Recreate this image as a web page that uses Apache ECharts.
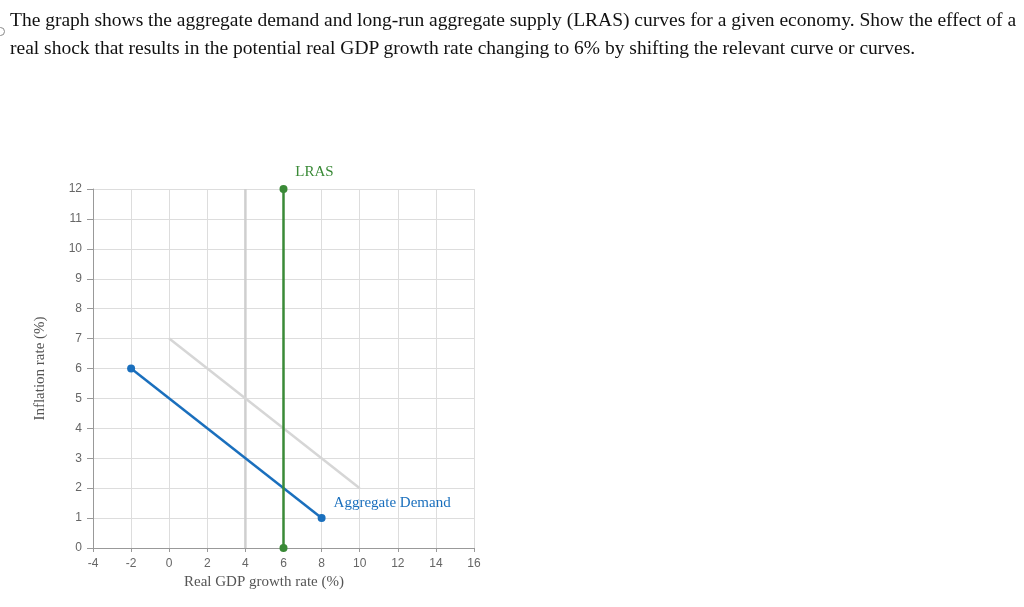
<!DOCTYPE html>
<html>
<head>
<meta charset="utf-8">
<script src="https://cdn.jsdelivr.net/npm/echarts@6/dist/echarts.min.js"></script>
<style>
  html, body { margin: 0; padding: 0; background: #fff; }
  #question {
    position: absolute; left: 10px; top: 6px; width: 1014px;
    font-family: "Liberation Serif", "Times New Roman", serif;
    font-size: 19.5px; line-height: 28px; color: #111; white-space: nowrap;
  }
  #dot {
    position: absolute; left: -4px; top: 27px; width: 7px; height: 7px;
    border: 1px solid #888; border-radius: 50%;
  }
  #chart { width: 1024px; height: 607px; }
</style>
</head>
<body>
<div id="chart"></div>
<div id="dot"></div>
<div id="question">The graph shows the aggregate demand and long-run aggregate supply (LRAS) curves for a given economy. Show the effect of a<br>real shock that results in the potential real GDP growth rate changing to 6% by shifting the relevant curve or curves.</div>
<script>
// 曲线数据 (x = 实际GDP增长率, y = 通胀率)
var oldLrasX = [4, 4];
var oldLrasY = [0, 12];
var oldAdX = [0, 10];
var oldAdY = [7, 2];
var adX = [-2, 8];
var adY = [6, 1];
var lrasX = [6, 6];
var lrasY = [0, 12];

function pairs(xs, ys) {
    return xs.map(function (x, i) { return [x, ys[i]]; });
}

var myChart = echarts.init(document.getElementById('chart'));

var serif = '"Liberation Serif", "Times New Roman", serif';
var sans = '"Liberation Sans", Arial, sans-serif';

var adData = pairs(adX, adY);
adData[1] = {
    value: adData[1],
    label: {
        show: true, position: 'right', offset: [3, -15],
        formatter: 'Aggregate Demand',
        color: '#1a6fbd', fontFamily: serif, fontSize: 15
    }
};
var lrasData = pairs(lrasX, lrasY);
lrasData[1] = {
    value: lrasData[1],
    label: {
        show: true, position: 'top', offset: [31, 0],
        formatter: 'LRAS',
        color: '#3a8a37', fontFamily: serif, fontSize: 15
    }
};

var option = {
    animation: false,
    grid: { left: 93, right: 550, top: 189, bottom: 59 },
    xAxis: {
        type: 'value', min: -4, max: 16, interval: 2,
        name: 'Real GDP growth rate (%)',
        nameLocation: 'middle', nameGap: 26,
        nameTextStyle: { fontFamily: serif, fontSize: 15, color: '#555', padding: [0, 39, 0, 0] },
        axisLine: { onZero: false, lineStyle: { color: '#999' } },
        axisTick: { show: true, length: 4, lineStyle: { color: '#999' } },
        axisLabel: { fontFamily: sans, fontSize: 12, color: '#666', margin: 10 },
        splitLine: { lineStyle: { color: '#ddd' } }
    },
    yAxis: {
        type: 'value', min: 0, max: 12, interval: 1,
        name: 'Inflation rate (%)',
        nameLocation: 'middle', nameGap: 45,
        nameTextStyle: { fontFamily: serif, fontSize: 15, color: '#555' },
        axisLine: { show: true, onZero: false, lineStyle: { color: '#999' } },
        axisTick: { show: true, length: 6, lineStyle: { color: '#999' } },
        axisLabel: { fontFamily: sans, fontSize: 12, color: '#666', margin: 11 },
        splitLine: { lineStyle: { color: '#ddd' } }
    },
    series: [
        {
            type: 'line', data: pairs(oldLrasX, oldLrasY), symbol: 'none',
            lineStyle: { color: '#cfcfcf', width: 2.5 }, z: 2
        },
        {
            type: 'line', data: pairs(oldAdX, oldAdY), symbol: 'none',
            lineStyle: { color: '#d6d6d6', width: 2.5 }, z: 2
        },
        {
            type: 'line', data: adData, symbol: 'circle', symbolSize: 8,
            itemStyle: { color: '#1a6fbd' },
            lineStyle: { color: '#1a6fbd', width: 2.5 }, z: 3
        },
        {
            type: 'line', data: lrasData, symbol: 'circle', symbolSize: 8,
            itemStyle: { color: '#3a8a37' },
            lineStyle: { color: '#3a8a37', width: 2.5 }, z: 4
        }
    ]
};

myChart.setOption(option);
</script>
</body>
</html>
